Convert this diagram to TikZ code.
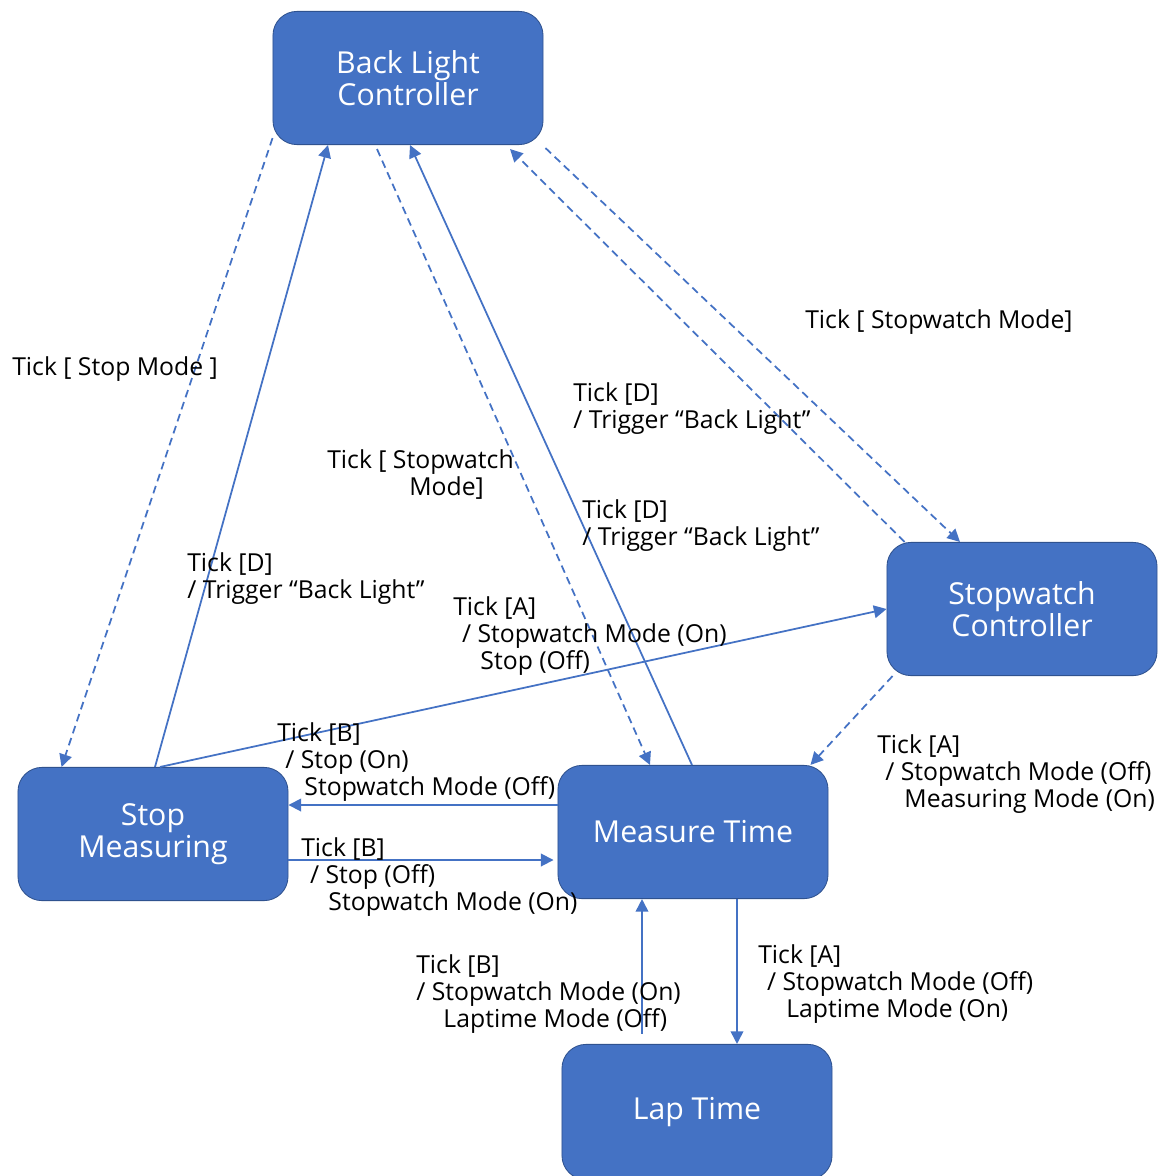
\documentclass[tikz,border=0pt]{standalone}
\usepackage{fontspec}
\setmainfont{Open Sans}
\usepackage{tikz}
\usetikzlibrary{arrows.meta}
\usetikzlibrary{calc}
\definecolor{boxblue}{HTML}{4472C4}
\definecolor{boxedge}{HTML}{2F528F}

\begin{document}
\begin{tikzpicture}[x=0.025cm, y=-0.025cm,
    state/.style={draw=boxedge, line width=0.6pt, fill=boxblue, rounded corners=0.6cm,
        minimum width=6.75cm, minimum height=3.33cm, align=center, text=white,
        font=\fontsize{21.5}{23}\selectfont},
    trans/.style={draw=boxblue, line width=1.25pt, -{Triangle[length=9pt,width=9pt]}},
    guard/.style={trans, dash pattern=on 5.5pt off 3.5pt},
    lbl/.style={anchor=north west, inner sep=0pt, align=left,
        font=\fontsize{17.6}{19.3}\selectfont}]
            \useasboundingbox (0, 0) rectangle (1168, 1176);

            \node[state] (blc) at (408, 78) {Back Light\\Controller};
            \node[state] (swc) at (1022, 609) {Stopwatch\\Controller};
            \node[state] (stop) at (153, 834) {Stop\\Measuring};
            \node[state] (meas) at (693, 832) {Measure Time};
            \node[state, minimum height=3.38cm] (lap) at (697, 1112) {Lap Time};

            \draw[guard] ($(blc.south west)+(0,-7)$) -- ($(stop.north west)+(44,0)$);
            \draw[trans] ($(stop.north)+(2,0)$) -- ($(blc.south)+(-80,0)$);
            \draw[guard] ($(blc.south)+(-31,4)$) -- ($(meas.north)+(-43,0)$);
            \draw[trans] ($(meas.north)+(-1,0)$) -- ($(blc.south)+(2,0)$);
            \draw[guard] ($(swc.north west)+(18,0)$) -- ($(blc.south)+(102,4)$);
            \draw[guard] ($(blc.south east)+(2,3)$) -- ($(swc.north)+(-62,0)$);
            \draw[trans] ($(stop.north)+(7,0)$) -- (swc.west);
            \draw[guard] ($(swc.south west)+(6,0)$) -- ($(meas.north east)+(-18,0)$);
            \draw[trans] ($(meas.west)+(0,-27)$) -- ($(stop.east)+(0,-29)$);
            \draw[trans] ($(stop.east)+(0,26)$) -- ($(meas.west)+(-4,28)$);
            \draw[trans] ($(lap.north)+(-55,-10)$) -- ($(meas.south)+(-51,0)$);
            \draw[trans] ($(meas.south)+(44,0)$) -- ($(lap.north)+(40,0)$);

            \node[lbl] (stopmode) at (12, 356) {Tick [ Stop Mode ]};
            \node[lbl] (blfromstop) at (187, 552) {Tick [D]\\/ Trigger “Back Light”};
            \node[lbl] (swmodeleft) at (327, 449) {Tick [ Stopwatch\\\hspace*{2.05cm}Mode]};
            \node[lbl] (blfrommeas) at (582, 499) {Tick [D]\\/ Trigger “Back Light”};
            \node[lbl] (blfromswc) at (573, 382) {Tick [D]\\/ Trigger “Back Light”};
            \node[lbl] (swmoderight) at (805, 309) {Tick [ Stopwatch Mode]};
            \node[lbl] (stoptoswc) at (453, 596) {Tick [A]\\\hspace*{0.22cm}/ Stopwatch Mode (On)\\\hspace*{0.68cm}Stop (Off)};
            \node[lbl] (swctomeas) at (877, 734) {Tick [A]\\\hspace*{0.2cm}/ Stopwatch Mode (Off)\\\hspace*{0.68cm}Measuring Mode (On)};
            \node[lbl] (meastostop) at (277, 722) {Tick [B]\\\hspace*{0.2cm}/ Stop (On)\\\hspace*{0.68cm}Stopwatch Mode (Off)};
            \node[lbl] (stoptomeas) at (301, 837) {Tick [B]\\\hspace*{0.22cm}/ Stop (Off)\\\hspace*{0.68cm}Stopwatch Mode (On)};
            \node[lbl] (laptomeas) at (416, 954) {Tick [B]\\/ Stopwatch Mode (On)\\\hspace*{0.68cm}Laptime Mode (Off)};
            \node[lbl] (meastolap) at (758, 944) {Tick [A]\\\hspace*{0.22cm}/ Stopwatch Mode (Off)\\\hspace*{0.7cm}Laptime Mode (On)};
        \end{tikzpicture}
\end{document}
